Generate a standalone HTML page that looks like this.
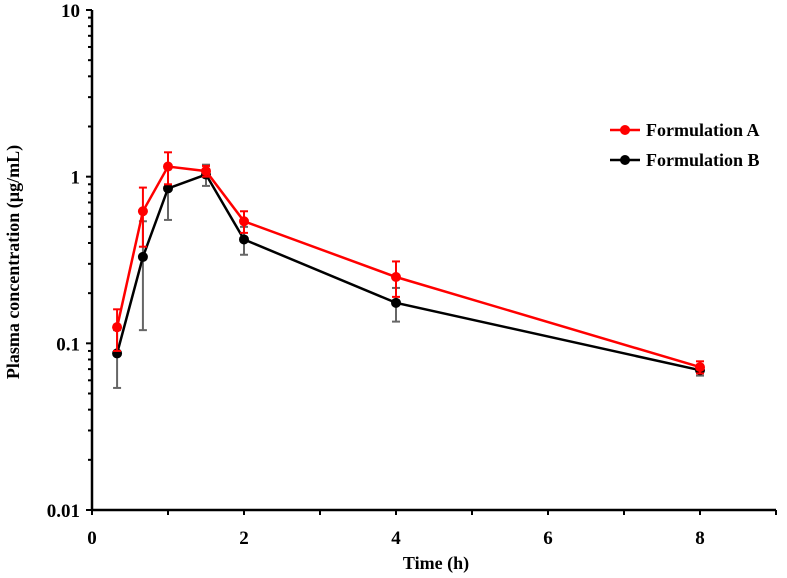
<!DOCTYPE html>
<html><head><meta charset="utf-8"><style>
body{margin:0;background:#fff}
svg{display:block;font-family:"Liberation Serif",serif;font-weight:bold}
</style></head><body>
<svg id="chart" width="787" height="578" viewBox="0 0 787 578"></svg>
<script>
const times=[0.33,0.67,1,1.5,2,4,8];
const seriesA=[0.125,0.62,1.15,1.08,0.54,0.25,0.072];
const errA=[0.035,0.24,0.25,0.08,0.08,0.06,0.006];
const seriesB=[0.087,0.33,0.85,1.03,0.42,0.175,0.069];
const errB=[0.033,0.21,0.30,0.15,0.08,0.04,0.005];
const xTicks=[0,2,4,6,8];
const yTicks=[0.01,0.1,1,10];
const yTickLabels=["0.01","0.1","1","10"];
const NS="http://www.w3.org/2000/svg";
const svg=document.getElementById('chart');
const X0=92,XS=76,Y0=510,YT=10;
const xs=t=>X0+t*XS;
const ys=v=>Y0-(Math.log10(v)+2)/3*(Y0-YT);
function el(tag,attrs,parent){const e=document.createElementNS(NS,tag);for(const k in attrs)e.setAttribute(k,attrs[k]);(parent||svg).appendChild(e);return e;}
let a=el('line',{x1:X0,y1:YT,x2:X0,y2:Y0,stroke:'#000','stroke-width':2.5});


a=el('line',{x1:X0,y1:Y0,x2:X0+9*XS,y2:Y0,stroke:'#000','stroke-width':2.5});


for(let i=0;i<=9;i++){el('line',{x1:xs(i),y1:Y0,x2:xs(i),y2:Y0+5,stroke:'#000','stroke-width':2});}
xTicks.forEach(t=>{const tx=el('text',{x:xs(t),y:Y0+34,'text-anchor':'middle','font-size':19});tx.textContent=t;

});
for(let d=-2;d<1;d++){for(let m=1;m<10;m++){const v=m*Math.pow(10,d);el('line',{x1:X0-(m==1?6:4),y1:ys(v),x2:X0,y2:ys(v),stroke:'#000','stroke-width':2});}}
el('line',{x1:X0-6,y1:ys(10),x2:X0,y2:ys(10),stroke:'#000','stroke-width':2});
yTicks.forEach((v,i)=>{const tx=el('text',{x:X0-12,y:ys(v)+7,'text-anchor':'end','font-size':19});tx.textContent=yTickLabels[i];

});
let t=el('text',{x:436,y:569,'text-anchor':'middle','font-size':18});t.textContent='Time (h)';


t=el('text',{x:0,y:0,'text-anchor':'middle','font-size':18,transform:'translate(19,262) rotate(-90)'});t.textContent='Plasma concentration (µg/mL)';


function series(vals,errs,color,ecolor,name){
 const g=el('g',{});
 
 
 vals.forEach((v,i)=>{const x=xs(times[i]);el('line',{x1:x,y1:ys(v+errs[i]),x2:x,y2:ys(Math.max(v-errs[i],0.005)),stroke:ecolor,'stroke-width':2},g);
  [v+errs[i],v-errs[i]].forEach(e=>el('line',{x1:x-4,x2:x+4,y1:ys(e),y2:ys(e),stroke:ecolor,'stroke-width':2},g));});
 el('polyline',{points:vals.map((v,i)=>xs(times[i])+','+ys(v)).join(' '),fill:'none',stroke:color,'stroke-width':2.5},g);
 vals.forEach((v,i)=>{const c=el('circle',{cx:xs(times[i]),cy:ys(v),r:5,fill:color},g);
  
  });
}
series(seriesB,errB,'#000','#666','series-formulation-b');
series(seriesA,errA,'#f00','#f00','series-formulation-a');
[['Formulation A','#f00',130],['Formulation B','#000',160]].forEach(([n,c,y])=>{
 const g=el('g',{});
 
 
 el('line',{x1:610,x2:640,y1:y,y2:y,stroke:c,'stroke-width':2.5},g);
 el('circle',{cx:625,cy:y,r:5,fill:c},g);
 const tx=el('text',{x:646,y:y+6,'font-size':18},g);tx.textContent=n;});
</script>
</body></html>
